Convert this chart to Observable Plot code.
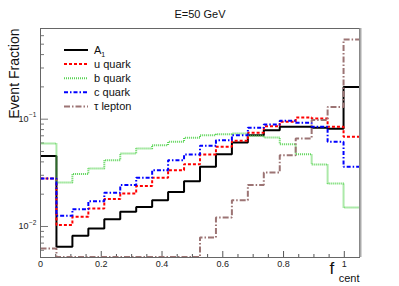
<!DOCTYPE html>
<html>
<head>
<meta charset="utf-8">
<script src="https://cdn.jsdelivr.net/npm/d3@7"></script>
<script src="https://cdn.jsdelivr.net/npm/@observablehq/plot@0.6"></script>
<style>
  html, body { margin: 0; padding: 0; background: #fff; }
  svg { font-family: "Liberation Sans", Arial, sans-serif; }
</style>
</head>
<body>
<div id="chart"></div>
<script>
// ---- data (bin contents) ----
const titleText = "E=50 GeV";
const xMin = 0, xMax = 1.05, nBins = 20;
const seriesNames = ["A1", "u quark", "b quark", "c quark", "τ lepton"];
const A1 = [0.0455, 0.00647, 0.00818, 0.00957, 0.0117, 0.0137, 0.0152, 0.0176, 0.0210, 0.0264,
            0.0360, 0.0472, 0.0607, 0.0710, 0.0790, 0.0849, 0.0850, 0.0830, 0.0813, 0.200];
const uQuark = [0.0280, 0.0103, 0.0123, 0.0147, 0.0180, 0.0203, 0.0238, 0.0284, 0.0335, 0.0381,
                0.0469, 0.0552, 0.0628, 0.0746, 0.0860, 0.0944, 0.1037, 0.1015, 0.0849, 0.0685];
const bQuark = [0.0593, 0.0257, 0.0308, 0.0347, 0.0415, 0.0479, 0.0533, 0.0573, 0.0615, 0.0670,
                0.0710, 0.0725, 0.0735, 0.0700, 0.0675, 0.0584, 0.0472, 0.0379, 0.0252, 0.0150];
const cQuark = [0.0280, 0.01256, 0.0145, 0.0172, 0.0206, 0.0243, 0.0284, 0.0335, 0.0415, 0.0469,
                0.0565, 0.0637, 0.0710, 0.0830, 0.0892, 0.0965, 0.0924, 0.0849, 0.0615, 0.0360];
const tauLepton = [0.00624, 0.0052, 0.0052, 0.0052, 0.0052, 0.0052, 0.0052, 0.0052, 0.0052, 0.0052,
                   0.0079, 0.0121, 0.0176, 0.0243, 0.0319, 0.0462, 0.0660, 0.0980, 0.130, 0.552];
const xTickValues = [0, 0.2, 0.4, 0.6, 0.8, 1];
const xTickLabels = ["0", "0.2", "0.4", "0.6", "0.8", "1"];
const yMajorValues = [0.01, 0.1];
const yMajorExponents = ["−2", "−1"];
const yMinorValues = [0.006, 0.007, 0.008, 0.009, 0.02, 0.03, 0.04, 0.05, 0.06, 0.07, 0.08, 0.09, 0.2, 0.3, 0.4, 0.5, 0.6];
const xMinorValues = d3.range(0.05, 1.05, 0.05).filter(v => xTickValues.every(t => Math.abs(t - v) > 1e-6));

// ---- styles ----
const seriesList = [
  {name: seriesNames[0], values: A1, color: "#000000", dash: null, width: 2},
  {name: seriesNames[1], values: uQuark, color: "#ff0000", dash: "3,2", width: 2},
  {name: seriesNames[2], values: bQuark, color: "#5ad455", dash: "1,1", width: 2},
  {name: seriesNames[3], values: cQuark, color: "#0000ff", dash: "4,2,1.5,2", width: 2},
  {name: seriesNames[4], values: tauLepton, color: "#9c7474", dash: "6,2,1.5,2", width: 2}
];

const W = 399, H = 286;
const mL = 40, mR = 40, mT = 28, mB = 29;
const yMin = 0.00514, yMax = 0.70;
const plotH = H - mT - mB, plotW = W - mL - mR;
const decadePx = plotH / Math.log10(yMax / yMin);
const yUp = px => yMin * Math.pow(10, px / decadePx);
const xRight = px => xMin + px * (xMax - xMin) / plotW;
const binW = (xMax - xMin) / nBins;

function stepRows(s) {
  const rows = s.values.map((v, i) => ({x: xMin + i * binW, y: v, s: s.name}));
  rows.push({x: xMax, y: s.values[s.values.length - 1], s: s.name});
  return rows;
}

const marks = [
  // x ticks (inside, upward)
  Plot.ruleX(xTickValues, {x: d => d, y1: yMin, y2: yUp(6), stroke: "#555"}),
  Plot.ruleX(xMinorValues, {x: d => d, y1: yMin, y2: yUp(3), stroke: "#555"}),
  // y ticks (inside, rightward)
  Plot.ruleY(yMajorValues, {y: d => d, x1: xMin, x2: xRight(8), stroke: "#777"}),
  Plot.ruleY(yMinorValues, {y: d => d, x1: xMin, x2: xRight(4), stroke: "#777"}),
];
for (const s of seriesList) {
  marks.push(Plot.line(stepRows(s), {
    x: "x", y: "y", curve: "step-after", stroke: s.color, strokeWidth: s.width,
    strokeDasharray: s.dash, strokeLinejoin: "miter", strokeLinecap: "butt", clip: true
  }));
}
marks.push(
  Plot.frame({stroke: "#666", strokeWidth: 1}),
  Plot.ruleX([xMax], {stroke: "#aaa", strokeWidth: 2, dx: 1}),
  // x tick labels
  Plot.text(xTickValues, {x: d => d, frameAnchor: "bottom", dy: 9, text: (d, i) => xTickLabels[i], fontSize: 9, fill: "#222"}),
  // y tick labels 10^n
  Plot.text(yMajorValues, {y: d => d, frameAnchor: "left", dx: -12, text: () => "10", textAnchor: "end", fontSize: 9, fill: "#222"}),
  Plot.text(yMajorValues, {y: d => d, frameAnchor: "left", dx: -4, dy: -4, text: (d, i) => yMajorExponents[i], textAnchor: "end", fontSize: 6.5, fill: "#222"}),
  // title
  Plot.text([titleText], {frameAnchor: "top", dy: -18, fontSize: 11, fill: "#111"}),
  // axis titles
  Plot.text(["Event Fraction"], {frameAnchor: "top-left", dx: -31, rotate: -90, textAnchor: "end", fontSize: 14, fill: "#111"}),
  Plot.text(["f"], {frameAnchor: "bottom-right", dx: -30, dy: 11, textAnchor: "start", fontSize: 17, fill: "#111", lineAnchor: "middle"}),
  Plot.text(["cent"], {frameAnchor: "bottom-right", dx: 0, dy: 21, textAnchor: "end", fontSize: 11, fill: "#111", lineAnchor: "middle"})
);

const chart = Plot.plot({
  width: W, height: H,
  marginLeft: mL, marginRight: mR, marginTop: mT, marginBottom: mB,
  x: {domain: [xMin, xMax], axis: null},
  y: {type: "log", domain: [yMin, yMax], axis: null},
  style: {fontFamily: "'Liberation Sans', Arial, sans-serif", background: "#fff"},
  marks
});

// legend inside the frame (drawn with d3 into the same svg)
const svg = d3.select(chart);
const lg = svg.append("g").attr("transform", "translate(64,50)");
seriesList.forEach((s, i) => {
  const g = lg.append("g").attr("transform", `translate(0,${i * 14.1})`);
  g.append("line").attr("x1", 0).attr("x2", 24).attr("y1", 0).attr("y2", 0)
    .attr("stroke", s.color).attr("stroke-width", s.width)
    .attr("stroke-dasharray", s.dash);
  const t = g.append("text").attr("x", 30).attr("y", 0).attr("dy", "0.35em")
    .attr("text-anchor", "start")
    .attr("font-size", 11).attr("fill", "#111");
  if (i === 0) {
    t.append("tspan").text("A");
    t.append("tspan").attr("font-size", 7).attr("dy", 3).text("1");
  } else {
    t.text(s.name);
  }
});

document.getElementById("chart").appendChild(chart);
</script>
</body>
</html>
